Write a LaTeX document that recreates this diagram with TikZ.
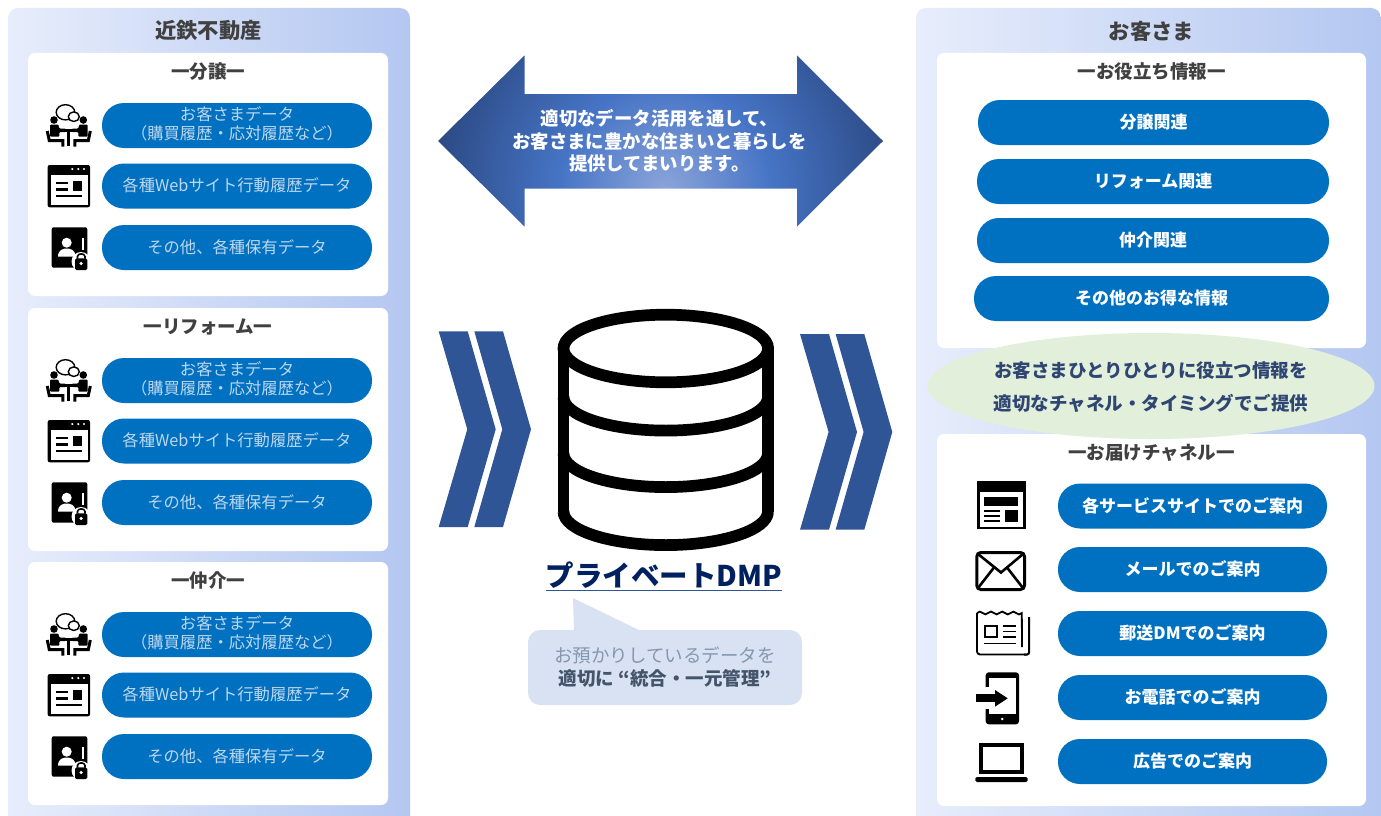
\documentclass[tikz,border=0pt]{standalone}
\usepackage{xcolor}
\usepackage{fontspec}
\setmainfont{Noto Sans CJK JP}
\usepackage{tikz}
\usetikzlibrary{shapes, arrows, positioning, calc}

\definecolor{panelL}{HTML}{E7EDFB}
\definecolor{panelR}{HTML}{B4C7F1}
\definecolor{pillblue}{HTML}{0070C0}
\definecolor{pilltext}{HTML}{BDD7EE}
\definecolor{headtext}{HTML}{404040}
\definecolor{chevron}{HTML}{2F5597}
\definecolor{navy}{HTML}{002060}
\definecolor{notefill}{HTML}{D9E2F3}
\definecolor{notelight}{HTML}{8497B0}
\definecolor{notedark}{HTML}{44546A}
\definecolor{leaf}{HTML}{E2EFDA}
\definecolor{leaftext}{HTML}{2F4673}
\definecolor{glowA}{HTML}{8CA5DA}
\definecolor{glowB}{HTML}{4674C5}
\definecolor{glowC}{HTML}{2C4A85}

\pgfdeclareradialshading{arrowglow}{\pgfpointorigin}{color(0bp)=(glowA); color(11bp)=(glowB); color(24bp)=(glowC); color(50bp)=(glowC)}

\tikzset{
    panel/.style={left color=panelL, right color=panelR, rounded corners=10pt},
    card/.style={fill=white, rounded corners=7pt},
    pill/.style={fill=pillblue, rounded corners=22pt, minimum height=45pt, inner sep=0pt, align=center},
    datapill/.style={pill, minimum width=270pt, text=pilltext, font=\fontsize{16.3}{19}\selectfont},
    dataline/.style={datapill, text height=13pt, text depth=2pt},
    infopill/.style={pill, text=white, text height=14.5pt, text depth=2.2pt, font=\fontsize{17}{20}\selectfont\bfseries},
    paneltitle/.style={text=headtext, font=\fontsize{21.3}{25}\selectfont\bfseries, inner sep=0pt},
    cardtitle/.style={text=headtext, font=\fontsize{18.5}{22}\selectfont\bfseries, inner sep=0pt},
    % Icons of the data rows
    meetingicon/.pic={
        \draw [line width=1.4pt, fill=white] (-3.3,-12.7) ellipse [x radius=9.3, y radius=7.6];
        \draw [line width=1.4pt, fill=white] (5,-8.3) ellipse [x radius=5.5, y radius=4.8];
        \fill (-14.8,-5) circle [radius=3.8];
        \fill (14.5,-5) circle [radius=3.8];
        \fill [rounded corners=1pt] (-18.8,-0.5) -- (-10.5,-0.5) -- (-9.5,3.5) -- (-3,3.5) -- (-3,7) -- (-9.5,7) -- (-9.5,11.7) -- (-18.8,11.7) -- cycle;
        \fill [rounded corners=1pt] (18.8,-0.5) -- (10.5,-0.5) -- (9.5,3.5) -- (3,3.5) -- (3,7) -- (9.5,7) -- (9.5,11.7) -- (18.8,11.7) -- cycle;
        \fill (-8,4) rectangle (8,6.5);
        \fill (-1.6,4) rectangle (1.6,21);
        \draw [line width=3pt] (-21.5,6) -- (-19.5,15.7) -- (-6,15.7) -- (-6,21.7);
        \draw [line width=3pt] (21.5,6) -- (19.5,15.7) -- (6,15.7) -- (6,21.7);
    },
    webicon/.pic={
        \fill [rounded corners=2pt] (-21.3,-21) rectangle (21,21.3);
        \fill [white] (-18.5,-11) rectangle (18.5,18.5);
        \foreach \xdot in {3.3,9.3,15} {
            \fill [white] (\xdot,-17) circle [radius=1.2];
        }
        \fill (-13,-4.5) rectangle (-0.7,-2.1);
        \fill (-13,2.1) rectangle (-0.7,4.5);
        \fill (3.7,-5) rectangle (13.3,4.7);
        \fill (-13,8.5) rectangle (13.3,10.9);
    },
    lockicon/.pic={
        \fill [rounded corners=2pt] (-17.8,-20.2) rectangle (17.8,20.2);
        \fill [white] (12.5,-9.5) rectangle (14,2.5);
        \fill [white] (-2.8,-4.8) circle [radius=5];
        \fill [white] (-11.5,9.2) .. controls (-11.5,2) and (-6,1) .. (-2.8,1) .. controls (0.5,1) and (6,2) .. (6,9.2) -- cycle;
        \fill [white] (11.5,14) circle [radius=9.5];
        \fill [white] (17.8,8) rectangle (20,24);
        \fill [rounded corners=1.5pt] (5.5,10.8) rectangle (17.8,22.5);
        \draw [line width=1.6pt] (8,11) -- (8,9) .. controls (8,5.5) and (15.5,5.5) .. (15.5,9) -- (15.5,11);
        \fill [white] (11.6,16) circle [radius=1.8];
    }
}

\begin{document}
\begin{tikzpicture}[x=1pt, y=-1pt, line join=miter]
    \useasboundingbox (0,0) rectangle (1381,816);
    \clip (0,0) rectangle (1381,816);

    % Outer panels
    \path [panel] (8,8) rectangle (410,840);
    \path [panel] (916,8) rectangle (1381,840);
    \node [paneltitle] (seller) at (208.5,30.5) {近鉄不動産};
    \node [paneltitle] (customer) at (1151.5,31.5) {お客さま};

    % Left cards, one per line of business
    \foreach \dy/\idx/\cardname in {0/a/一分譲一, 255/b/一リフォーム一, 509/c/一仲介一} {
        \path [card] (28,53+\dy) rectangle (388,296+\dy);
        \node [cardtitle] (title\idx) at (208,71.5+\dy) {\cardname};
        \node [datapill] (visit\idx) at (237,125.5+\dy) {お客さまデータ\\（購買履歴・応対履歴など）\rule[-4pt]{0pt}{4pt}};
        \node [dataline] (web\idx) at (237,186+\dy) {各種Webサイト行動履歴データ};
        \node [dataline] (other\idx) at (237,247.5+\dy) {その他、各種保有データ};
        \pic at (68.8,125+\dy) {meetingicon};
        \pic at (69,186+\dy) {webicon};
        \pic at (69.5,247.5+\dy) {lockicon};
    }

    % Big two-way arrow
    \begin{scope}
        \clip (438,141) -- (524.5,55.5) -- (524.5,94) -- (797,94) -- (797,55.5) -- (883,141)
            -- (797,226.5) -- (797,188.5) -- (524.5,188.5) -- (524.5,226.5) -- cycle;
        \shade [shading=arrowglow] (665,190) circle [radius=240];
    \end{scope}
    \node [text=white, align=center, inner sep=0pt, font=\fontsize{18.4}{22.5}\selectfont\bfseries] (promise) at (659.5,141)
        {適切なデータ活用を通して、\\お客さまに豊かな住まいと暮らしを\\提供してまいります。};

    % Chevrons on both sides of the database
    \foreach \sx/\sy in {0/0, 361.3/2.7} {
        \fill [chevron] (438.7+\sx,331.3+\sy) -- (467.7+\sx,331.3+\sy) -- (495.7+\sx,429.3+\sy)
            -- (467.7+\sx,527+\sy) -- (438.7+\sx,527+\sy) -- (467.3+\sx,429.3+\sy) -- cycle;
        \fill [chevron] (474.3+\sx,331.3+\sy) -- (503+\sx,331.3+\sy) -- (531+\sx,429.3+\sy)
            -- (503+\sx,527+\sy) -- (474.3+\sx,527+\sy) -- (502.3+\sx,429.3+\sy) -- cycle;
    }

    % Database
    \draw [line width=11.7pt] (665.8,348.5) ellipse [x radius=102.3, y radius=33.8];
    \draw [line width=11.7pt] (563.5,348.5) -- (563.5,511.5);
    \draw [line width=11.7pt] (768,348.5) -- (768,511.5);
    \foreach \ytop in {397,453.5,511.5} {
        \draw [line width=11.7pt] (563.5,\ytop) .. controls (563.5,\ytop+18.5) and (609.5,\ytop+33.6) .. (665.8,\ytop+33.6)
            .. controls (722,\ytop+33.6) and (768,\ytop+18.5) .. (768,\ytop);
    }

    % Database label and its note
    \node [text=navy, inner sep=0pt, font=\fontsize{28.5}{32}\selectfont\bfseries] (dmp) at (664,575.5) {プライベートDMP};
    \draw [chevron, line width=1.2pt] (dmp.west |- 0,590.5) -- (dmp.east |- 0,590.5);
    \fill [notefill] (573,598) -- (574,632) -- (643,632) -- cycle;
    \node [fill=notefill, rounded corners=12pt, minimum width=274pt, minimum height=75pt, inner sep=0pt, align=center,
        font=\fontsize{18.5}{23}\selectfont] (note) at (665,667.5)
        {\textcolor{notelight}{お預かりしているデータを}\\\textcolor{notedark}{\bfseries 適切に “統合・一元管理”}};

    % Right upper card
    \path [card] (937,53) rectangle (1366,348);
    \node [cardtitle] (infotitle) at (1151.5,71.5) {一お役立ち情報一};
    \node [infopill, minimum width=351pt] (resale) at (1153.5,122.5) {分譲関連};
    \node [infopill, minimum width=352pt] (reform) at (1153,181.5) {リフォーム関連};
    \node [infopill, minimum width=352pt] (broker) at (1153,240.5) {仲介関連};
    \node [infopill, minimum width=355pt] (deals) at (1151.5,298.5) {その他のお得な情報};

    % Right lower card
    \path [card] (937,434) rectangle (1366,806);
    \node [cardtitle] (chantitle) at (1151.5,452.5) {一お届けチャネル一};
    \node [infopill, minimum width=269pt] (site) at (1192.5,506) {各サービスサイトでのご案内};
    \node [infopill, minimum width=269pt] (mail) at (1192.5,569.5) {メールでのご案内};
    \node [infopill, minimum width=269pt] (post) at (1192.5,633.5) {郵送DMでのご案内};
    \node [infopill, minimum width=269pt] (phone) at (1192.5,697.5) {お電話でのご案内};
    \node [infopill, minimum width=269pt] (ads) at (1192.5,761.5) {広告でのご案内};

    % Ellipse between the right cards
    \node [ellipse, fill=leaf, minimum width=447pt, minimum height=106pt, inner sep=0pt, align=center, text=leaftext,
        font=\fontsize{18.5}{33}\selectfont\bfseries] (offer) at (1151,386)
        {\rule{0pt}{19pt}お客さまひとりひとりに役立つ情報を\\適切なチャネル・タイミングでご提供};

    % Channel icons
    \fill (977,481) rectangle (1025.7,529.3);
    \fill [white] (979.7,492.3) rectangle (1023,526.6);
    \fill (984.3,497) rectangle (1018.3,506);
    \fill (1004.7,510) rectangle (1018.3,521.7);
    \foreach \yline in {511,515.7,520.7} {
        \fill (984.3,\yline-0.8) rectangle (1000,\yline+0.8);
    }

    \draw [line width=3pt, rounded corners=4pt] (976.8,552.5) rectangle (1024.5,589.5);
    \draw [line width=2.6pt] (978,554) -- (1001,572.5) -- (1023,554);
    \draw [line width=2.6pt] (978,588) -- (994,567.5);
    \draw [line width=2.6pt] (1023,588) -- (1007,567.5);

    \draw [line width=1.8pt, rounded corners=3pt] (977,613) -- (977,654.5) -- (1027,654.5);
    \draw [line width=1.8pt] (977,613) sin ++(2.8,-1.4) cos ++(2.8,1.4) sin ++(2.8,1.4) cos ++(2.8,-1.4)
        sin ++(2.8,-1.4) cos ++(2.8,1.4) sin ++(2.8,1.4) cos ++(2.8,-1.4)
        sin ++(2.8,-1.4) cos ++(2.8,1.4) sin ++(2.8,1.4) cos ++(2.8,-1.4)
        sin ++(2.8,-1.4) cos ++(2.8,1.4) sin ++(2.8,1.4) cos ++(2.8,-1.4) -- (1022,647);
    \draw [line width=2pt, rounded corners=2pt] (1029,617) -- (1029,654.5) -- (1024,654.5);
    \draw [line width=1.6pt] (984.8,625.8) rectangle (997,637);
    \foreach \yline in {625.7,631.3,637} {
        \fill (1002.7,\yline-0.8) rectangle (1016,\yline+0.8);
    }
    \fill (984,642.5) rectangle (1016,644.2);

    \fill [rounded corners=3pt] (985.7,672.3) rectangle (1019,724.3);
    \fill [white] (988.7,678) rectangle (1016,714);
    \fill [white] (984,686.5) rectangle (988.8,708.5);
    \fill [white] (1002.3,719) circle [radius=1.4];
    \fill (976,694.3) rectangle (995,702.3);
    \fill (995,690) -- (1007.7,698.3) -- (995,706.7) -- cycle;

    \draw [line width=4.5pt] (981.2,745.2) rectangle (1022,772.2);
    \fill [rounded corners=1.5pt] (975.3,777) rectangle (1027.7,782);
\end{tikzpicture}
\end{document}
